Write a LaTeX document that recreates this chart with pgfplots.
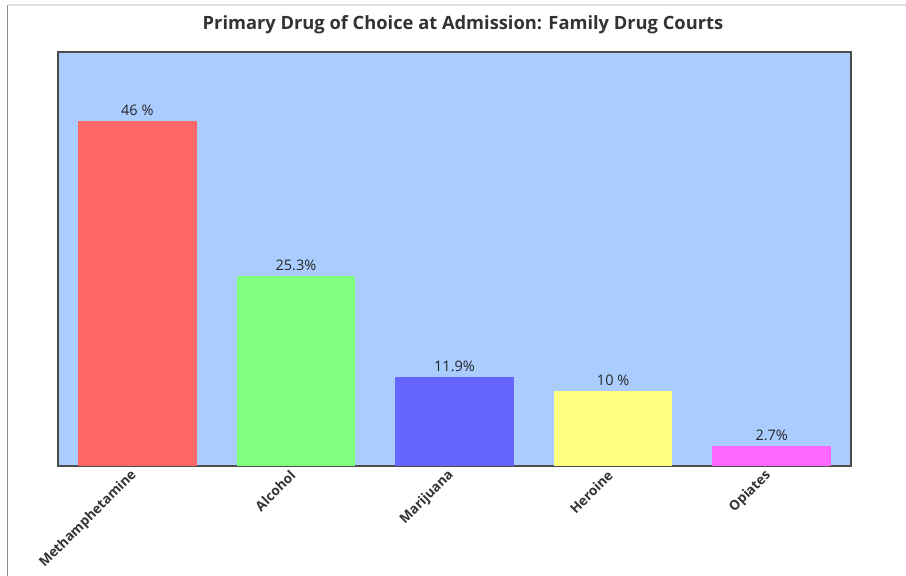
\documentclass[border=0pt]{standalone}
\usepackage{pgfplots}
\pgfplotsset{compat=1.18}
\usepackage{fontspec}
\setmainfont{Open Sans}
\definecolor{plotbg}{HTML}{AACCFF}
\definecolor{cmeth}{HTML}{FF6666}
\definecolor{calc}{HTML}{80FF80}
\definecolor{cmar}{HTML}{6666FF}
\definecolor{cher}{HTML}{FFFF80}
\definecolor{copi}{HTML}{FF66FF}
\definecolor{txt}{HTML}{333333}
\begin{document}
\begin{tikzpicture}[x=1pt,y=1pt]
\useasboundingbox (0,0) rectangle (906,576);
\fill[white] (0,0) rectangle (906,576);
\draw[line width=1.2pt,color=black!12] (8,571) -- (906,571);
\draw[line width=1pt,color=black!45] (7.5,0) -- (7.5,571);
\node[text=txt] at (463,551) {\fontsize{18.3}{21}\selectfont\bfseries Primary Drug of Choice at Admission: Family Drug Courts};
\begin{axis}[
  at={(58pt,110pt)}, anchor=south west,
  scale only axis, width=793pt, height=414pt,
  xmin=-0.5, xmax=4.5, ymin=0, ymax=55.2,
  axis background/.style={fill=plotbg},
  axis line style={color=black!70, line width=1.3pt},
  ytick=\empty,
  xtick={0,1,2,3,4},
  xticklabels={Methamphetamine,Alcohol,Marijuana,Heroine,Opiates},
  xtick style={draw=none},
  xticklabel style={rotate=45, anchor=east, font=\fontsize{13.5}{16}\selectfont\bfseries, text=txt, inner sep=4pt},
  ybar, bar width=118.5pt, bar shift=0pt,
  point meta=explicit symbolic,
  nodes near coords,
  nodes near coords style={font=\fontsize{14.5}{17}\selectfont, text=black!85, anchor=south, yshift=2pt},
  clip=false,
]
\addplot[fill=cmeth, draw=none] coordinates {(0,46) [46 \%]};
\addplot[fill=calc, draw=none] coordinates {(1,25.3) [25.3\%]};
\addplot[fill=cmar, draw=none] coordinates {(2,11.9) [11.9\%]};
\addplot[fill=cher, draw=none] coordinates {(3,10) [10 \%]};
\addplot[fill=copi, draw=none] coordinates {(4,2.7) [2.7\%]};
\end{axis}
\end{tikzpicture}
\end{document}
